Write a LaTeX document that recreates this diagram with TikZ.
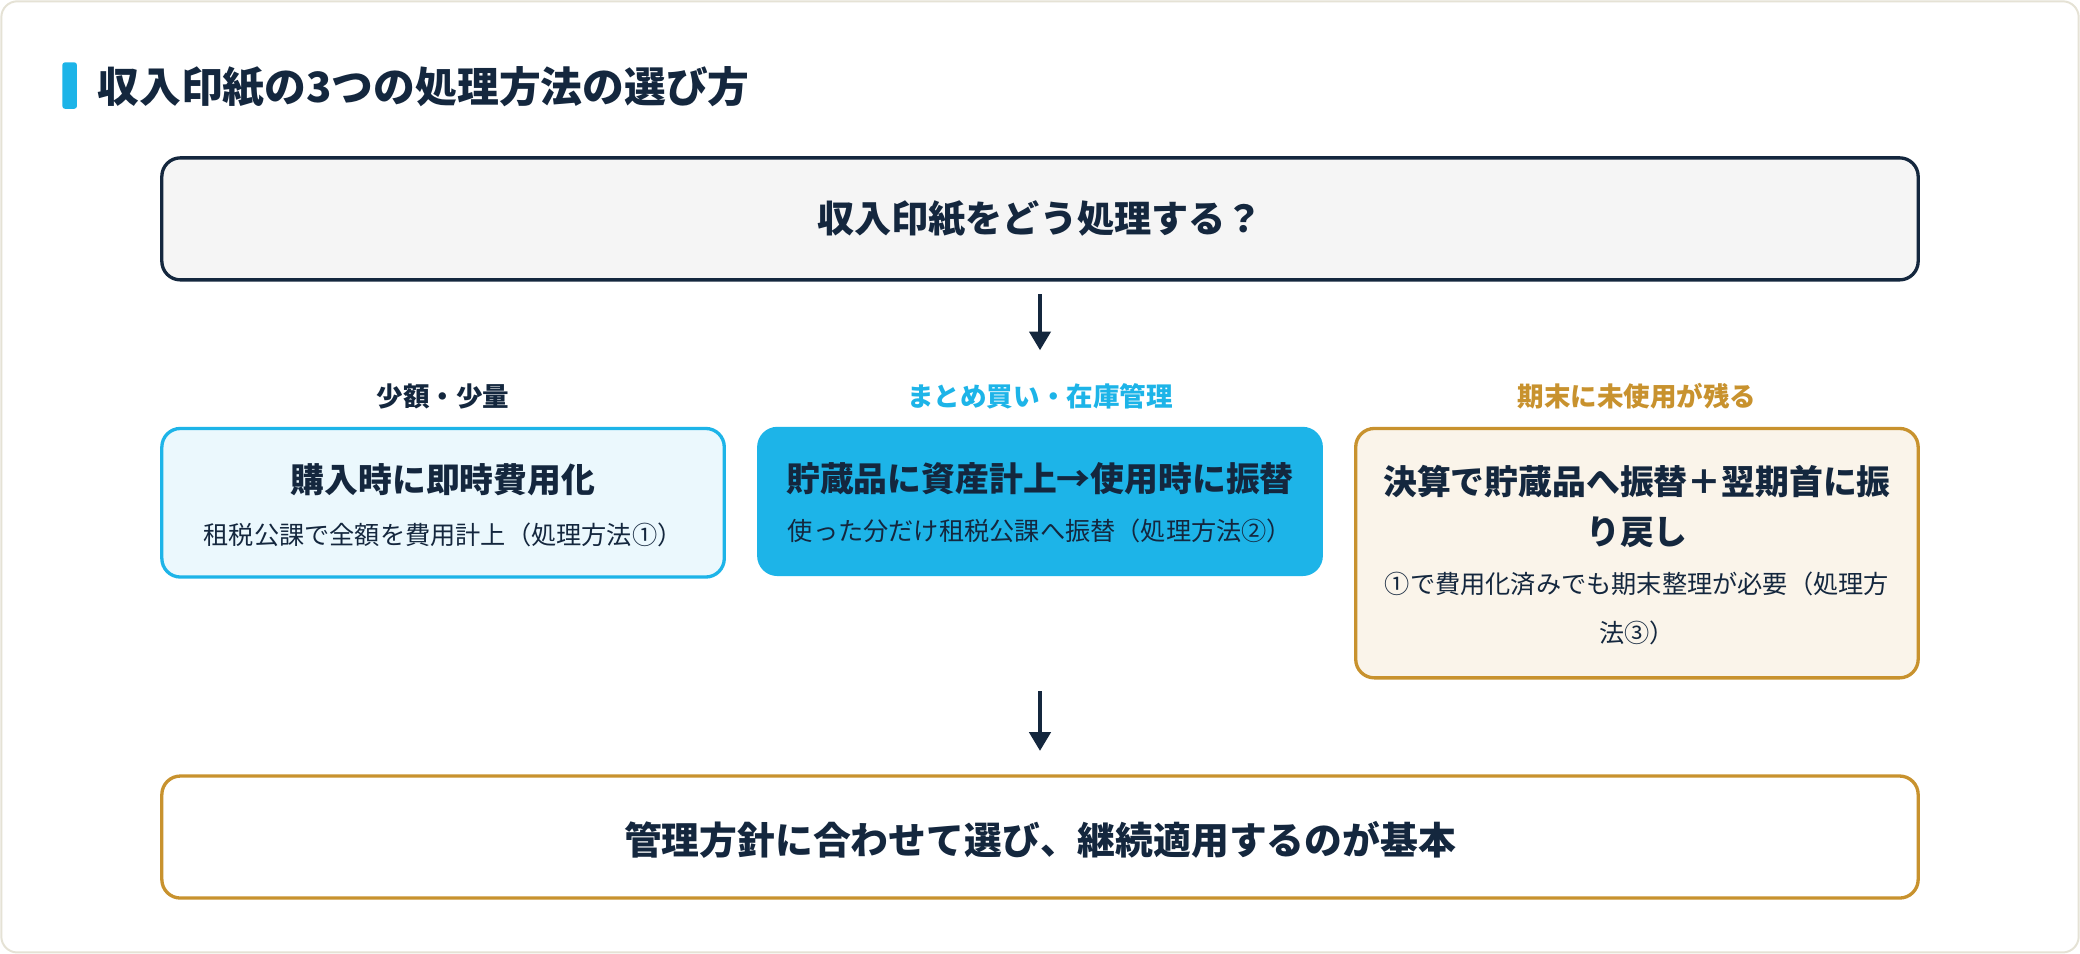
\documentclass[tikz,border=0pt]{standalone}
\usepackage{fontspec}
\setmainfont{Noto Sans CJK JP}
\usetikzlibrary{arrows.meta}
\definecolor{navy}{HTML}{14273E}
\definecolor{cyan1}{HTML}{1DB4E8}
\definecolor{gold}{HTML}{C8922E}
\definecolor{edge}{HTML}{E5E2D5}
\begin{document}
\begin{tikzpicture}[x=1pt,y=-1pt,
  box/.style={draw,line width=2.5pt,rounded corners=14pt},
  ttl/.style={font=\bfseries\fontsize{25.5}{38}\selectfont,text=navy,align=center},
  sub/.style={font=\fontsize{19}{37}\selectfont,text=navy,align=center},
  lbl/.style={font=\bfseries\fontsize{20}{22}\selectfont},
  arr/.style={draw=navy,line width=2.5pt,-{Triangle[length=14pt,width=16pt]}}]
\useasboundingbox (0,0) rectangle (1568,719);
\draw[edge,fill=white,line width=1.5pt,rounded corners=12pt] (1,1) rectangle (1567,718);
\fill[cyan1,rounded corners=2pt] (47,47) rectangle (58,82);
\node[anchor=west,font=\bfseries\fontsize{31.5}{34}\selectfont,text=navy] (title) at (70,66) {収入印紙の3つの処理方法の選び方};
\draw[box,draw=navy,fill=black!4!white] (122,119) rectangle (1446,211);
\node[ttl,font=\bfseries\fontsize{28}{32}\selectfont] (q) at (784,165) {収入印紙をどう処理する？};
\coordinate (a1s) at (784,222); \coordinate (a1e) at (784,264);
\draw[arr] (a1s) -- (a1e);
\node[lbl,text=navy] (l1) at (334,299) {少額・少量};
\node[lbl,text=cyan1] (l2) at (784,299) {まとめ買い・在庫管理};
\node[lbl,text=gold] (l3) at (1234,299) {期末に未使用が残る};
\draw[box,draw=cyan1,fill=cyan1!9!white] (122,323) rectangle (546,435);
\node[ttl] (b1t) at (334,362) {購入時に即時費用化};
\node[sub] (b1s) at (334,403) {租税公課で全額を費用計上（処理方法①）};
\draw[box,draw=cyan1,fill=cyan1] (572,323) rectangle (996,433);
\node[ttl] (b2t) at (784,361) {貯蔵品に資産計上→使用時に振替};
\node[sub] (b2s) at (784,400) {使った分だけ租税公課へ振替（処理方法②）};
\draw[box,draw=gold,fill=gold!10!white] (1022,323) rectangle (1446,511);
\node[ttl] (b3t) at (1234,382) {決算で貯蔵品へ振替＋翌期首に振\\り戻し};
\node[sub] (b3s) at (1234,459) {①で費用化済みでも期末整理が必要（処理方\\法③）};
\coordinate (a2s) at (784,521); \coordinate (a2e) at (784,566);
\draw[arr] (a2s) -- (a2e);
\draw[box,draw=gold,fill=white] (122,585) rectangle (1446,677);
\node[ttl,font=\bfseries\fontsize{28.5}{32}\selectfont] (bot) at (784,633) {管理方針に合わせて選び、継続適用するのが基本};
\end{tikzpicture}
\end{document}
